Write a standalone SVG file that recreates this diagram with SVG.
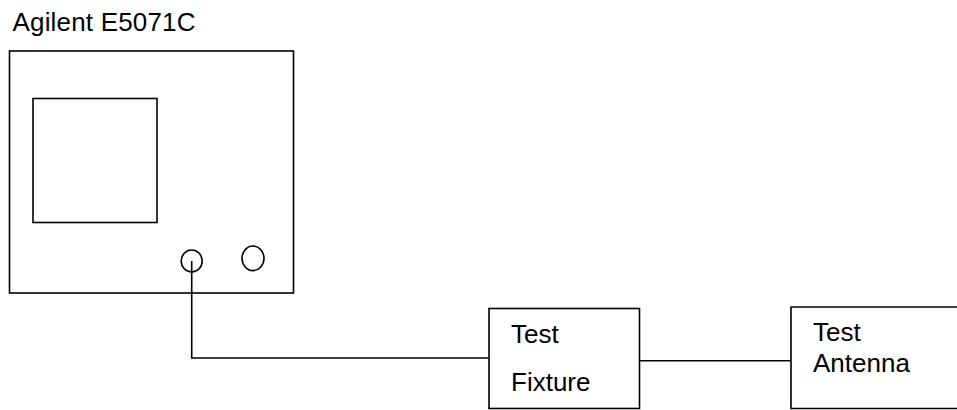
<svg xmlns="http://www.w3.org/2000/svg" width="957" height="410" viewBox="0 0 957 410">
<style>
.s{fill:none;stroke:#000;stroke-width:1.6}
.t{font-family:"Liberation Sans",Arial,sans-serif;font-size:26px;fill:#000}
</style>
<rect width="957" height="410" fill="#fff"/>
<g id="analyzer">
<text class="t" x="12.5" y="30.5" font-size="24" textLength="183">Agilent E5071C</text>
<rect class="s" x="9.5" y="51" width="284" height="242"/>
<rect class="s" x="33" y="98.5" width="124" height="124"/>
<ellipse class="s" cx="191.7" cy="261" rx="10.5" ry="11"/>
<ellipse class="s" cx="253" cy="258.3" rx="11" ry="12.3"/>
</g>
<g id="fixture">
<rect class="s" x="489" y="308.5" width="150.5" height="100"/>
<text class="t" x="511" y="343.3">Test</text>
<text class="t" x="511" y="390.7">Fixture</text>
</g>
<g id="antenna">
<path class="s" d="M960 307 H791 V408.5 H960"/>
<text class="t" x="813" y="341">Test</text>
<text class="t" x="813" y="371.7">Antenna</text>
</g>
<g id="connectors">
<path class="s" d="M191.7 261 V358 H489"/>
<path class="s" d="M639.5 360.7 H791"/>
</g>
</svg>
